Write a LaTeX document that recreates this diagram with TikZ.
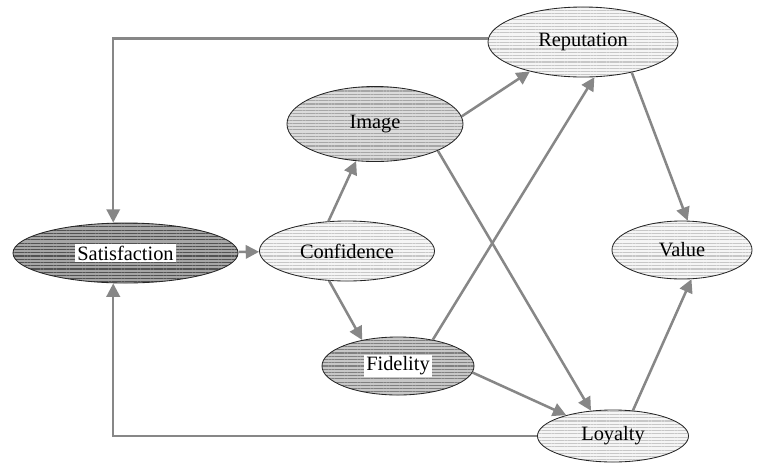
\documentclass[tikz,border=0pt]{standalone}
\usepackage{fontspec}
\setmainfont{Liberation Serif}
\usetikzlibrary{shapes.geometric,patterns.meta,arrows.meta}
\setlength{\fboxsep}{1.5pt}
\def\whitelabel#1{\colorbox{white}{#1}}
\tikzset{
  factor/.style={ellipse, draw=black!85, line width=0.6pt, inner sep=0pt,
    font=\fontsize{14.5}{17}\selectfont,
    pattern={Lines[angle=0,distance=2.3pt,line width=0.8pt]}},
  lightfac/.style={factor, preaction={fill=black!4}, pattern color=black!22},
  midfac/.style={factor, preaction={fill=black!14}, pattern color=black!35},
  greyfac/.style={factor, preaction={fill=black!22}, pattern color=black!50},
  darkfac/.style={factor, preaction={fill=black!35}, pattern color=black!68},
  link/.style={draw=black!47, line width=1.8pt, -{Triangle[length=9.5pt,width=9.5pt]}}
}

\begin{document}
\begin{tikzpicture}[x=0.025cm, y=-0.025cm]
		%%%%% START %%%%%
		\useasboundingbox (0, 0) rectangle (759, 463);
		
		\node[darkfac, minimum width=5.625cm, minimum height=1.5cm] (sat) at (125.5, 253) {\whitelabel{Satisfaction}};
		\node[lightfac, minimum width=4.375cm, minimum height=1.5cm] (conf) at (347, 251) {Confidence};
		\node[midfac, minimum width=4.4cm, minimum height=1.875cm] (img) at (375, 124) {Image};
		\node[greyfac, minimum width=3.8cm, minimum height=1.45cm] (fid) at (398, 366) {\whitelabel{Fidelity}};
		\node[lightfac, minimum width=4.75cm, minimum height=1.75cm] (rep) at (583, 42) {Reputation};
		\node[lightfac, minimum width=3.5cm, minimum height=1.45cm] (val) at (682, 250) {Value};
		\node[lightfac, minimum width=3.775cm, minimum height=1.3cm] (loy) at (613, 436) {Loyalty};
		
		\draw[link] (sat) -- (conf);
		\draw[link] (conf.122) -- (img.243);
		\draw[link] (conf.239) -- (fid.144);
		\draw[link] (img.5) -- (rep.209);
		\draw[link] (img.337) -- (loy.131);
		\draw[link] (fid.37) -- (rep.288);
		\draw[link] (fid.355) -- (loy.156);
		\draw[link] (rep.328) -- (val.79);
		\draw[link] (loy.52) -- (val.288);
		
		\draw[link] (rep.178) -| (sat.112);
		\draw[link] (loy.west) -| (sat.248);
		
		%%%%% END %%%%%
	\end{tikzpicture}
\end{document}
